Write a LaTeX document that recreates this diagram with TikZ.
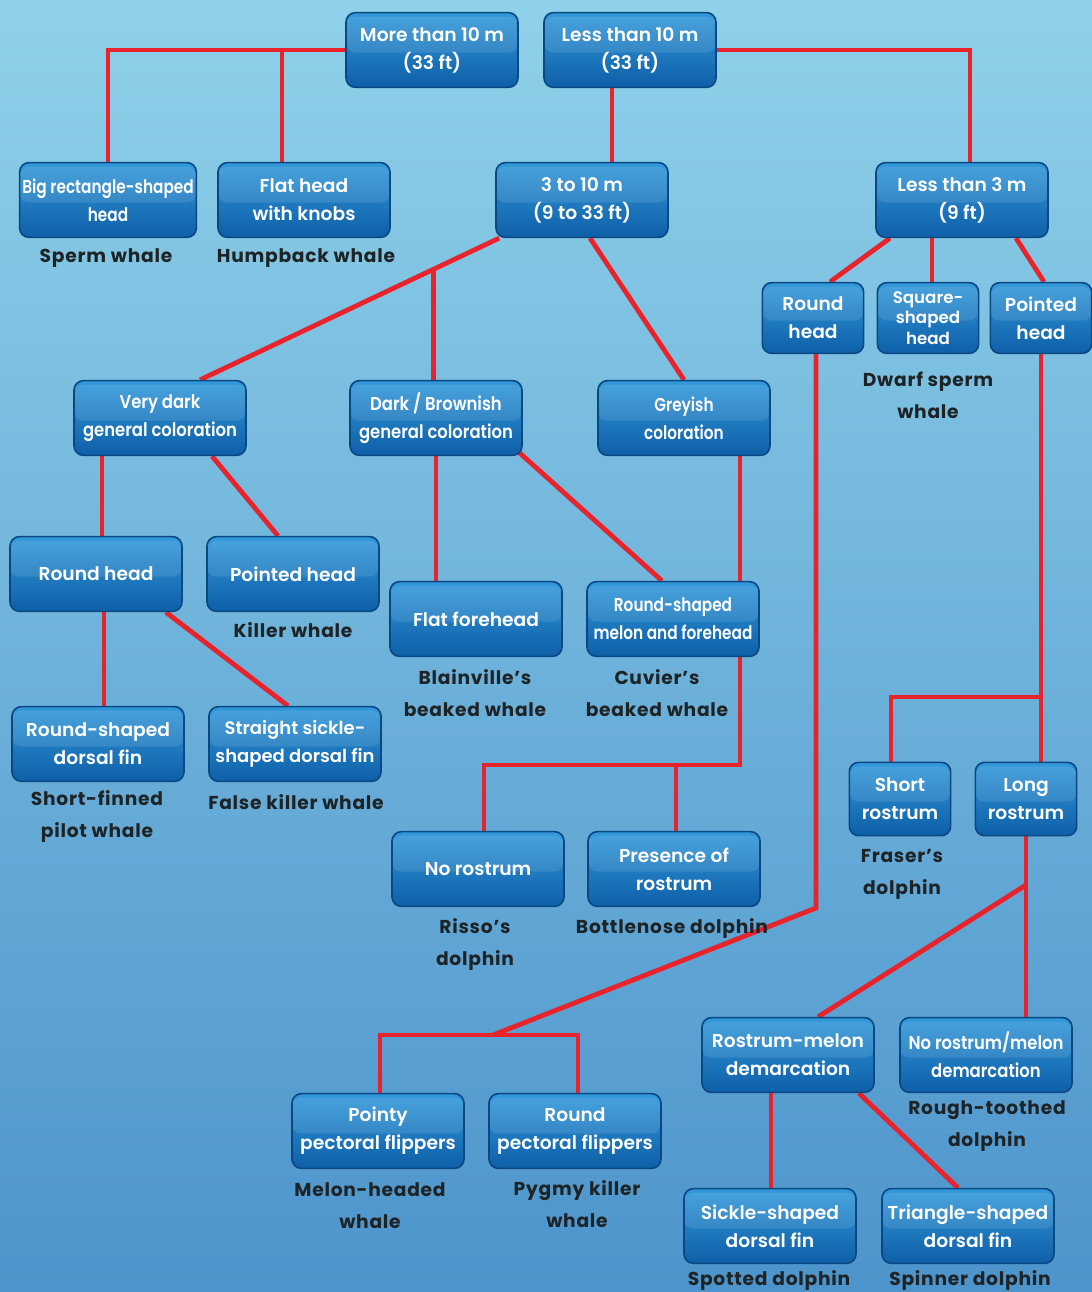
\documentclass[tikz,border=0pt]{standalone}
\usepackage{fontspec}
\usetikzlibrary{calc}
\pgfdeclarelayer{bg}
\pgfdeclarelayer{lines}
\pgfsetlayers{bg,lines,main}
\IfFontExistsTF{Poppins SemiBold}{%
  \newfontfamily\boxfont{Poppins SemiBold}%
  \newfontfamily\boxcondA{Poppins SemiBold}[FakeStretch=0.82]%
  \newfontfamily\boxcondB{Poppins SemiBold}[FakeStretch=0.88]%
  \newfontfamily\boxcondC{Poppins SemiBold}[FakeStretch=0.92]}{%
  \newfontfamily\boxfont{Poppins}[FakeBold=1]%
  \newfontfamily\boxcondA{Poppins}[FakeBold=1,FakeStretch=0.82]%
  \newfontfamily\boxcondB{Poppins}[FakeBold=1,FakeStretch=0.88]%
  \newfontfamily\boxcondC{Poppins}[FakeBold=1,FakeStretch=0.92]}
\IfFontExistsTF{Poppins Bold}{%
  \newfontfamily\labfont{Poppins Bold}[LetterSpace=4]}{%
  \newfontfamily\labfont{Poppins}[FakeBold=1.5,LetterSpace=4]}
\definecolor{sea1}{HTML}{8FD1E9}
\definecolor{sea2}{HTML}{7CC3E3}
\definecolor{sea3}{HTML}{4D94CC}
\definecolor{boxtop}{HTML}{3399DA}
\definecolor{boxbot}{HTML}{0E5FA8}
\definecolor{boxrim}{HTML}{0A4783}
\definecolor{conn}{HTML}{E8232B}
\definecolor{labtxt}{HTML}{1E2326}
\tikzset{
  box/.style={rounded corners=7pt, draw=boxrim, line width=1.2pt,
    top color=boxtop, bottom color=boxbot, text=white, align=center,
    minimum width=129pt, minimum height=56pt, inner sep=2pt,
    font=\boxfont\fontsize{14}{21}\selectfont,
    path picture={\fill[white,opacity=0.10]
      ([yshift=-3pt]path picture bounding box.north west) rectangle
      ([yshift=-2pt]path picture bounding box.east);}},
  boxfs/.style={font=\boxfont\fontsize{#1}{21}\selectfont},
  condA/.style={font=\boxcondA\fontsize{14}{21}\selectfont},
  condB/.style={font=\boxcondB\fontsize{14}{21}\selectfont},
  condC/.style={font=\boxcondC\fontsize{14}{21}\selectfont},
  sbox/.style={box, minimum width=76pt, minimum height=53pt},
  lab/.style={text=labtxt, align=center, inner sep=0pt,
    font=\labfont\fontsize{14}{24}\selectfont},
  link/.style={draw=conn, line width=3.6pt}
}
\begin{document}
\begin{tikzpicture}[x=0.75pt,y=-0.75pt]
\begin{pgfonlayer}{bg}
\fill[top color=sea1, middle color=sea2, bottom color=sea3] (0,0) rectangle (1092,1292);
\end{pgfonlayer}
\path[use as bounding box] (0,0) rectangle (1092,1292);
% decision boxes
\node[box] (m10) at (432,50) {More than 10 m\\(33 ft)};
\node[box] (l10) at (630,50) {Less than 10 m\\(33 ft)};
\node[box,condA] (big) at (108,200) {Big rectangle-shaped\\head};
\node[box] (flat) at (304,200) {Flat head\\with knobs};
\node[box] (t310) at (582,200) {3 to 10 m\\(9 to 33 ft)};
\node[box] (l3) at (962,200) {Less than 3 m\\(9 ft)};
\node[sbox] (rhs) at (813,318) {Round\\head};
\node[sbox,font=\boxfont\fontsize{12.5}{15.5}\selectfont] (sq) at (928,318) {Square-\\shaped\\head};
\node[sbox] (pts) at (1041,318) {Pointed\\head};
\node[box,condB] (vdark) at (160,418) {Very dark\\general coloration};
\node[box,condB] (dark) at (436,418) {Dark / Brownish\\general coloration};
\node[box,condA] (grey) at (684,418) {Greyish\\coloration};
\node[box] (rh) at (96,574) {Round head};
\node[box] (ph) at (293,574) {Pointed head};
\node[box] (ff) at (476,619) {Flat forehead};
\node[box,condA] (rsm) at (673,619) {Round-shaped\\melon and forehead};
\node[box] (rsd) at (98,744) {Round-shaped\\dorsal fin};
\node[box,boxfs=13.5] (ssd) at (295,744) {Straight sickle-\\shaped dorsal fin};
\node[sbox,minimum height=55pt] (sr) at (900,799) {Short\\rostrum};
\node[sbox,minimum height=55pt] (lr) at (1026,799) {Long\\rostrum};
\node[box] (nor) at (478,869) {No rostrum};
\node[box] (pr) at (674,869) {Presence of\\rostrum};
\node[box] (rm) at (788,1055) {Rostrum-melon\\demarcation};
\node[box,condB] (nrm) at (986,1055) {No rostrum/melon\\demarcation};
\node[box] (pp) at (378,1131) {Pointy\\pectoral flippers};
\node[box] (rp) at (575,1131) {Round\\pectoral flippers};
\node[box] (sdf) at (770,1226) {Sickle-shaped\\dorsal fin};
\node[box] (tdf) at (968,1226) {Triangle-shaped\\dorsal fin};
% species labels
\node[lab] (sperm) at (106,258) {Sperm whale};
\node[lab] (hump) at (306,258) {Humpback whale};
\node[lab] (dwarf) at (928,395) {Dwarf sperm\\whale};
\node[lab] (killer) at (293,630) {Killer whale};
\node[lab] (blain) at (475,693) {Blainville’s\\beaked whale};
\node[lab] (cuv) at (657,693) {Cuvier’s\\beaked whale};
\node[lab] (pilot) at (97,816) {Short-finned\\pilot whale};
\node[lab] (fkw) at (296,802) {False killer whale};
\node[lab] (fras) at (902,874) {Fraser’s\\dolphin};
\node[lab] (risso) at (475,944) {Risso’s\\dolphin};
\node[lab] (bottle) at (672,928) {Bottlenose dolphin};
\node[lab] (rough) at (987,1126) {Rough-toothed\\dolphin};
\node[lab] (melon) at (370,1206) {Melon-headed\\whale};
\node[lab] (pygmy) at (577,1204) {Pygmy killer\\whale};
\node[lab] (spot) at (769,1280) {Spotted dolphin};
\node[lab] (spin) at (970,1280) {Spinner dolphin};
% junction points
\coordinate (j1) at (282,50);
\coordinate (j2) at (740,765);
\coordinate (j3) at (816,908);
\coordinate (j4) at (493,1035);
\coordinate (j5) at (1041,697);
\coordinate (j6) at (1026,885);
\begin{pgfonlayer}{lines}
\draw[link] (m10.west) -| (big.north);
\draw[link] (j1) -- (j1 |- flat.north);
\draw[link] (l10.east) -| ($(l3.north)+(8,0)$);
\draw[link] ($(l10.south)+(-18,0)$) -- ($(t310.north)+(30,0)$);
\draw[link] ($(t310.south west)+(4,0)$) -- ($(vdark.north)+(40,0)$);
\coordinate (j7) at ($($(t310.south west)+(4,0)$)!0.22!($(vdark.north)+(40,0)$)$);
\draw[link] (j7) -- (j7 |- dark.north);
\draw[link] ($(t310.south)+(8,0)$) -- (grey.north);
\draw[link] ($(l3.south)+(-72,0)$) -- ($(rhs.north)+(17,0)$);
\draw[link] ($(l3.south)+(-30,0)$) -- ($(sq.north)+(4,0)$);
\draw[link] ($(l3.south)+(54,0)$) -- ($(pts.north)+(3,0)$);
\draw[link] ($(vdark.south)+(-58,0)$) -- ($(rh.north)+(6,0)$);
\draw[link] ($(vdark.south)+(52,0)$) -- ($(ph.north)+(-15,0)$);
\draw[link] ($(rh.south)+(8,0)$) -- ($(rsd.north)+(6,0)$);
\draw[link] ($(rh.south east)+(-17,0)$) -- ($(ssd.north)+(-7,0)$);
\draw[link] (dark.south) -- ($(ff.north)+(-40,0)$);
\draw[link] ($(dark.south east)+(-4,-4)$) -- ($(rsm.north)+(-11,0)$);
\draw[link] ($(grey.south)+(56,0)$) -- (j2) -| ($(nor.north)+(6,0)$);
\draw[link] ($(pr.north)+(2,0)$) |- (j2);
\draw[link] ($(rhs.south)+(3,0)$) -- (j3) -- (j4);
\draw[link] ($(pp.north)+(2,0)$) |- (j4) -| ($(rp.north)+(3,0)$);
\draw[link] (pts.south) -- (pts.south |- lr.north);
\draw[link] (j5) -| ($(sr.north)+(-9,0)$);
\draw[link] (lr.south) -- ($(nrm.north)+(40,0)$);
\draw[link] (j6) -- ($(rm.north)+(30,0)$);
\draw[link] ($(rm.south)+(-17,0)$) -- ($(sdf.north)+(1,0)$);
\draw[link] ($(rm.south east)+(-16,0)$) -- ($(tdf.north)+(-10,0)$);
\end{pgfonlayer}
\end{tikzpicture}
\end{document}
